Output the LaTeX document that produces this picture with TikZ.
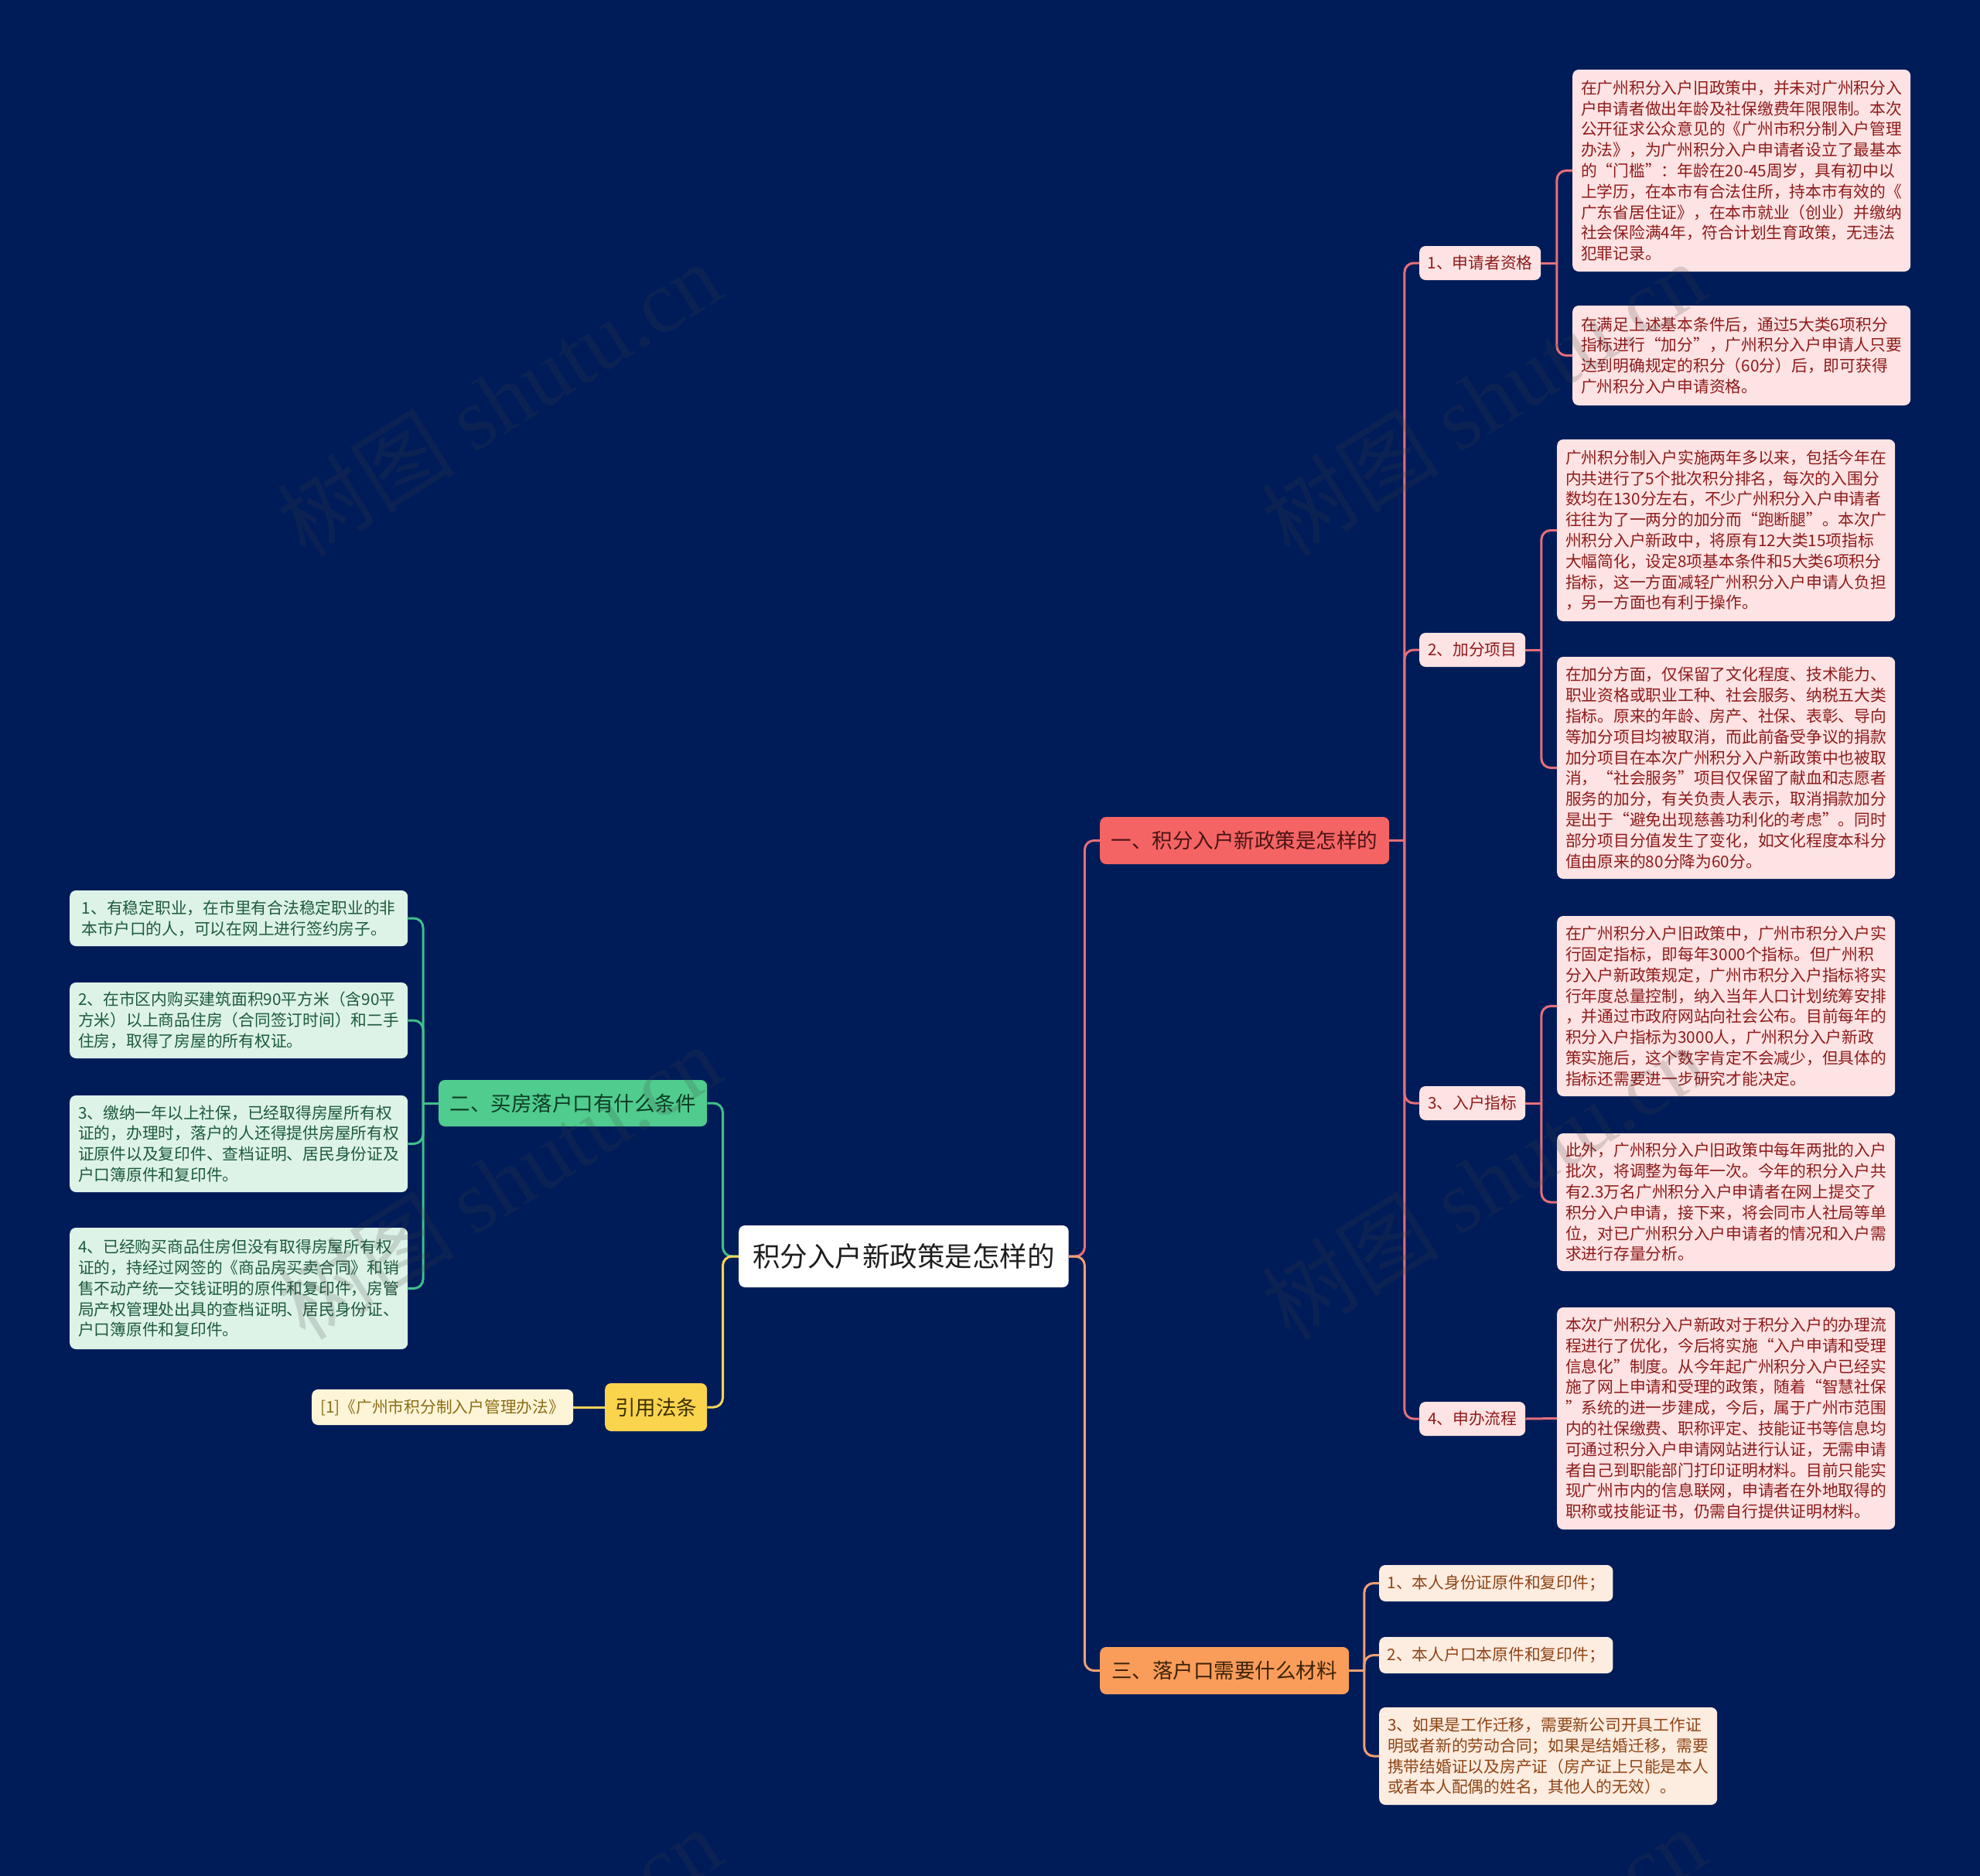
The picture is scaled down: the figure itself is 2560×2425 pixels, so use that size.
\documentclass[tikz,border=0pt]{standalone}
\usepackage{fontspec}
\usetikzlibrary{calc}
\setmainfont{Noto Sans CJK SC}
\newfontfamily\wmlatin{Liberation Serif}
\definecolor{bg}{HTML}{001C58}
\definecolor{rootfill}{HTML}{FFFFFF}
\definecolor{roottext}{HTML}{1E1E1E}
\definecolor{redfill}{HTML}{F56464}
\definecolor{redtext}{HTML}{4A1414}
\definecolor{redline}{HTML}{E4707A}
\definecolor{pinkfill}{HTML}{FDE3E3}
\definecolor{pinktext}{HTML}{8E1B1B}
\definecolor{orfill}{HTML}{FA9D5A}
\definecolor{ortext}{HTML}{3D2208}
\definecolor{orline}{HTML}{F0A072}
\definecolor{peachfill}{HTML}{FDECE0}
\definecolor{peachtext}{HTML}{8E4516}
\definecolor{grfill}{HTML}{50CC8E}
\definecolor{grtext}{HTML}{0B3D24}
\definecolor{grline}{HTML}{3FC08A}
\definecolor{mintfill}{HTML}{DDF3E8}
\definecolor{minttext}{HTML}{1D5B3B}
\definecolor{yefill}{HTML}{FAD44D}
\definecolor{yetext}{HTML}{3D3000}
\definecolor{yeline}{HTML}{F5D457}
\definecolor{creamfill}{HTML}{FEF5D8}
\definecolor{creamtext}{HTML}{8A6D15}
\newcommand{\fleaf}{\fontsize{20.75}{26.8}\selectfont}
\newcommand{\fmain}{\fontsize{26.5}{30}\selectfont}
\newcommand{\froot}{\fontsize{35.5}{40}\selectfont}
\begin{document}
\begin{tikzpicture}[x=1pt,y=-1pt,
  sz/.style 2 args={minimum width=#1,minimum height=#2},
  box/.style={rounded corners=8, anchor=west, inner xsep=11, inner ysep=0, align=left},
  rootbox/.style={box, fill=rootfill, text=roottext, font=\froot, inner xsep=18},
  mainbox/.style={box, font=\fmain, inner xsep=10},
  leafbox/.style={box, font=\fleaf},
  conn/.style={line width=3, rounded corners=12},
  wm/.style={rotate=32, text=black!75, text opacity=0.18, font=\fontsize{115}{115}\selectfont}
]
\fill[bg] (0,0) rectangle (2560,2425);
\useasboundingbox (0,0) rectangle (2560,2425);

% root
\node[rootbox, sz={426}{80}] (root) at (955,1624) {积分入户新政策是怎样的};

% main branches
\node[mainbox, fill=redfill, text=redtext, sz={374}{61}] (b1) at (1422,1086.5) {一、积分入户新政策是怎样的};
\node[mainbox, fill=grfill, text=grtext, sz={347}{60}] (b2) at (567,1426) {二、买房落户口有什么条件};
\node[mainbox, fill=yefill, text=yetext, sz={132}{62}] (b3) at (782,1819) {引用法条};
\node[mainbox, fill=orfill, text=ortext, sz={322}{61}] (b4) at (1422,2159.5) {三、落户口需要什么材料};

% sub nodes of b1
\node[leafbox, fill=pinkfill, text=pinktext, inner xsep=10, sz={157}{44}] (s1) at (1835,340) {1、申请者资格};
\node[leafbox, fill=pinkfill, text=pinktext, inner xsep=10, sz={137}{44}] (s2) at (1835,840) {2、加分项目};
\node[leafbox, fill=pinkfill, text=pinktext, inner xsep=10, sz={137}{44}] (s3) at (1835,1426) {3、入户指标};
\node[leafbox, fill=pinkfill, text=pinktext, inner xsep=10, sz={137}{44}] (s4) at (1835,1834) {4、申办流程};

% leaves of s1
\node[leafbox, fill=pinkfill, text=pinktext, sz={437}{261}] (l1a) at (2033,220.5) {在广州积分入户旧政策中，并未对广州积分入\\户申请者做出年龄及社保缴费年限限制。本次\\公开征求公众意见的《广州市积分制入户管理\\办法》，为广州积分入户申请者设立了最基本\\的“门槛”：年龄在20-45周岁，具有初中以\\上学历，在本市有合法住所，持本市有效的《\\广东省居住证》，在本市就业（创业）并缴纳\\社会保险满4年，符合计划生育政策，无违法\\犯罪记录。};
\node[leafbox, fill=pinkfill, text=pinktext, sz={437}{129}] (l1b) at (2033,459.5) {在满足上述基本条件后，通过5大类6项积分\\指标进行“加分”，广州积分入户申请人只要\\达到明确规定的积分（60分）后，即可获得\\广州积分入户申请资格。};

% leaves of s2
\node[leafbox, fill=pinkfill, text=pinktext, sz={436}{235}] (l2a) at (2013,685.5) {广州积分制入户实施两年多以来，包括今年在\\内共进行了5个批次积分排名，每次的入围分\\数均在130分左右，不少广州积分入户申请者\\往往为了一两分的加分而“跑断腿”。本次广\\州积分入户新政中，将原有12大类15项指标\\大幅简化，设定8项基本条件和5大类6项积分\\指标，这一方面减轻广州积分入户申请人负担\\，另一方面也有利于操作。};
\node[leafbox, fill=pinkfill, text=pinktext, sz={436}{287}] (l2b) at (2013,992.5) {在加分方面，仅保留了文化程度、技术能力、\\职业资格或职业工种、社会服务、纳税五大类\\指标。原来的年龄、房产、社保、表彰、导向\\等加分项目均被取消，而此前备受争议的捐款\\加分项目在本次广州积分入户新政策中也被取\\消，“社会服务”项目仅保留了献血和志愿者\\服务的加分，有关负责人表示，取消捐款加分\\是出于“避免出现慈善功利化的考虑”。同时\\部分项目分值发生了变化，如文化程度本科分\\值由原来的80分降为60分。};

% leaves of s3
\node[leafbox, fill=pinkfill, text=pinktext, sz={436}{233}] (l3a) at (2013,1300.5) {在广州积分入户旧政策中，广州市积分入户实\\行固定指标，即每年3000个指标。但广州积\\分入户新政策规定，广州市积分入户指标将实\\行年度总量控制，纳入当年人口计划统筹安排\\，并通过市政府网站向社会公布。目前每年的\\积分入户指标为3000人，广州积分入户新政\\策实施后，这个数字肯定不会减少，但具体的\\指标还需要进一步研究才能决定。};
\node[leafbox, fill=pinkfill, text=pinktext, sz={436}{178}] (l3b) at (2013,1554) {此外，广州积分入户旧政策中每年两批的入户\\批次，将调整为每年一次。今年的积分入户共\\有2.3万名广州积分入户申请者在网上提交了\\积分入户申请，接下来，将会同市人社局等单\\位，对已广州积分入户申请者的情况和入户需\\求进行存量分析。};

% leaf of s4
\node[leafbox, fill=pinkfill, text=pinktext, sz={436}{287}] (l4) at (2013,1833.5) {本次广州积分入户新政对于积分入户的办理流\\程进行了优化，今后将实施“入户申请和受理\\信息化”制度。从今年起广州积分入户已经实\\施了网上申请和受理的政策，随着“智慧社保\\”系统的进一步建成，今后，属于广州市范围\\内的社保缴费、职称评定、技能证书等信息均\\可通过积分入户申请网站进行认证，无需申请\\者自己到职能部门打印证明材料。目前只能实\\现广州市内的信息联网，申请者在外地取得的\\职称或技能证书，仍需自行提供证明材料。};

% leaves of b4
\node[leafbox, fill=peachfill, text=peachtext, inner xsep=10.5, sz={302}{47}] (m1) at (1783,2046.5) {1、本人身份证原件和复印件；};
\node[leafbox, fill=peachfill, text=peachtext, inner xsep=10.5, sz={302}{47}] (m2) at (1783,2139.5) {2、本人户口本原件和复印件；};
\node[leafbox, fill=peachfill, text=peachtext, inner xsep=10.5, sz={437}{126}] (m3) at (1783,2270) {3、如果是工作迁移，需要新公司开具工作证\\明或者新的劳动合同；如果是结婚迁移，需要\\携带结婚证以及房产证（房产证上只能是本人\\或者本人配偶的姓名，其他人的无效）。};

% leaves of b2
\node[leafbox, fill=mintfill, text=minttext, sz={437}{72}] (g1) at (90,1187) {1、有稳定职业，在市里有合法稳定职业的非\\本市户口的人，可以在网上进行签约房子。};
\node[leafbox, fill=mintfill, text=minttext, sz={437}{98}] (g2) at (90,1319) {2、在市区内购买建筑面积90平方米（含90平\\方米）以上商品住房（合同签订时间）和二手\\住房，取得了房屋的所有权证。};
\node[leafbox, fill=mintfill, text=minttext, sz={437}{125}] (g3) at (90,1478.5) {3、缴纳一年以上社保，已经取得房屋所有权\\证的，办理时，落户的人还得提供房屋所有权\\证原件以及复印件、查档证明、居民身份证及\\户口簿原件和复印件。};
\node[leafbox, fill=mintfill, text=minttext, sz={437}{157}] (g4) at (90,1665.5) {4、已经购买商品住房但没有取得房屋所有权\\证的，持经过网签的《商品房买卖合同》和销\\售不动产统一交钱证明的原件和复印件，房管\\局产权管理处出具的查档证明、居民身份证、\\户口簿原件和复印件。};

% leaf of b3
\node[leafbox, fill=creamfill, text=creamtext, inner xsep=10, sz={338}{46}] (c1) at (403,1819) {[1]《广州市积分制入户管理办法》};

% connectors: root
\coordinate (jr) at ($(root.east)+(20.5,0)$);
\coordinate (jl) at ($(root.west)+(-20.5,0)$);
\draw[conn, redline] (root.east) -- (jr) |- (b1.west);
\draw[conn, orline] (root.east) -- (jr) |- (b4.west);
\draw[conn, grline] (root.west) -- (jl) |- (b2.east);
\draw[conn, yeline] (root.west) -- (jl) |- (b3.east);

% b1 -> subs
\coordinate (j1) at ($(b1.east)+(19.5,0)$);
\draw[conn, redline] (b1.east) -- (j1);
\foreach \n in {s1,s2,s3,s4} \draw[conn, redline] (j1) |- (\n.west);

% s1 -> leaves
\coordinate (js1) at ($(s1.east)+(20.5,0)$);
\draw[conn, redline] (s1.east) -- (js1);
\foreach \n in {l1a,l1b} \draw[conn, redline] (js1) |- (\n.west);
% s2 -> leaves
\coordinate (js2) at ($(s2.east)+(20.5,0)$);
\draw[conn, redline] (s2.east) -- (js2);
\foreach \n in {l2a,l2b} \draw[conn, redline] (js2) |- (\n.west);
% s3 -> leaves
\coordinate (js3) at ($(s3.east)+(20.5,0)$);
\draw[conn, redline] (s3.east) -- (js3);
\foreach \n in {l3a,l3b} \draw[conn, redline] (js3) |- (\n.west);
% s4 -> leaf
\draw[conn, redline] (s4.east) -- (l4.west);

% b4 -> leaves
\coordinate (j4) at ($(b4.east)+(19.5,0)$);
\draw[conn, orline] (b4.east) -- (j4);
\foreach \n in {m1,m2,m3} \draw[conn, orline] (j4) |- (\n.west);

% b2 -> leaves
\coordinate (j2) at ($(b2.west)+(-20,0)$);
\draw[conn, grline] (b2.west) -- (j2);
\foreach \n in {g1,g2,g3,g4} \draw[conn, grline] (j2) |- (\n.east);

% b3 -> leaf
\draw[conn, yeline] (b3.west) -- (c1.east);

% watermarks
\foreach \x/\y in {645/515,1918/515,645/1527,1918/1527,645/2539,1918/2539}
  \node[wm] at (\x,\y) {树图 {\wmlatin shutu.cn}};
\end{tikzpicture}
\end{document}
